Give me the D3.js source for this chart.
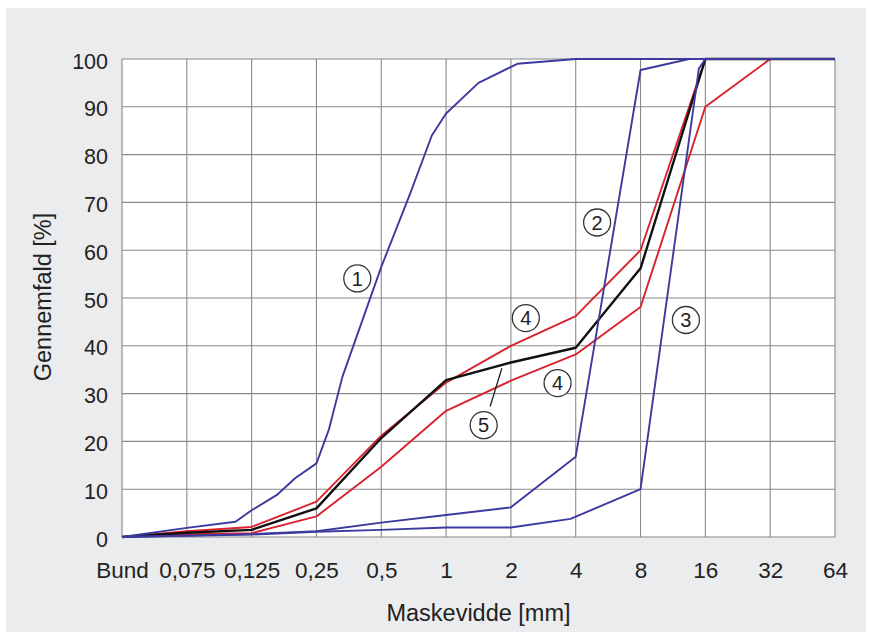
<!DOCTYPE html>
<html>
<head>
<meta charset="utf-8">
<script src="https://cdn.jsdelivr.net/npm/d3@7"></script>
<style>
    body { margin: 0; background: #fff; }
    text { font-family: "Liberation Sans", Arial, sans-serif; fill: #222; }
</style>
</head>
<body>
<svg id="sieveChart"></svg>
<script>
// sieve sizes on the x axis (evenly spaced, x values below are positions on this list)
var sieveLabels = ["Bund", "0,075", "0,125", "0,25", "0,5", "1", "2", "4", "8", "16", "32", "64"];
var percentTicks = [0, 10, 20, 30, 40, 50, 60, 70, 80, 90, 100];

// grading curves: [sieve position, passing %]
var curve1 = [[0, 0], [1, 1.9], [1.75, 3.2], [2, 5.6], [2.39, 8.8], [2.67, 12.3], [3, 15.4], [3.19, 22.4], [3.4, 33.5],
    [4, 56.5], [4.45, 72], [4.78, 84], [5, 88.6], [5.5, 95], [6.1, 99], [7, 100], [11, 100]];
var curve2 = [[0, 0], [2, 0.6], [3, 1.2], [4, 3.0], [5, 4.6], [6, 6.2], [7, 16.8], [8, 97.7], [8.75, 100], [11, 100]];
var curve3 = [[0, 0], [2, 0.5], [3, 1.1], [4, 1.5], [5, 2.0], [6, 2.0], [6.92, 3.8], [8, 10], [8.9, 98], [9, 100], [11, 100]];
var curve4Upper = [[0, 0], [1, 1.2], [2, 2.1], [3, 7.4], [4, 21.2], [5, 32.3], [6, 40], [7, 46.2], [8, 60], [9, 100], [11, 100]];
var curve4Lower = [[0, 0], [1, 0.6], [2, 0.8], [3, 4.3], [4, 14.7], [5, 26.4], [6, 32.7], [7, 38.2], [8, 48.1], [9, 90], [10, 100], [11, 100]];
var curve5 = [[0, 0], [1, 0.9], [2, 1.5], [3, 6.0], [4, 20.7], [5, 32.8], [6, 36.5], [7, 39.6], [8, 56.2], [9, 100], [11, 100]];

// circled curve numbers: [sieve position, %, label]
var curveLabels = [[3.63, 54.1, "1"], [7.33, 65.8, "2"], [8.70, 45.4, "3"], [6.23, 45.8, "4"], [6.72, 32.2, "4"], [5.58, 23.4, "5"]];
var leaderLine = [[5.68, 27.3], [5.86, 35.3]];

var width = 873, height = 633;
var plotLeft = 122, plotRight = 835, plotTop = 59, plotBottom = 537;

var svg = d3.select("#sieveChart")
    .attr("width", width)
    .attr("height", height);

svg.append("rect")
    .attr("x", 6).attr("y", 8)
    .attr("width", 860).attr("height", 624)
    .attr("fill", "#ebeced");

svg.append("rect")
    .attr("x", plotLeft).attr("y", plotTop)
    .attr("width", plotRight - plotLeft).attr("height", plotBottom - plotTop)
    .attr("fill", "#fff");

var x = d3.scaleLinear()
    .domain([0, sieveLabels.length - 1])
    .range([plotLeft, plotRight]);

var y = d3.scaleLinear()
    .domain([0, 100])
    .range([plotBottom, plotTop]);

// grid
svg.append("g")
    .selectAll("line")
    .data(d3.range(sieveLabels.length))
    .enter().append("line")
    .attr("x1", function (d) { return x(d); })
    .attr("x2", function (d) { return x(d); })
    .attr("y1", plotTop).attr("y2", plotBottom)
    .attr("stroke", "#8a8a8a")
    .attr("stroke-width", 1.1);

svg.append("g")
    .selectAll("line")
    .data(percentTicks)
    .enter().append("line")
    .attr("x1", plotLeft).attr("x2", plotRight)
    .attr("y1", function (d) { return y(d); })
    .attr("y2", function (d) { return y(d); })
    .attr("stroke", "#8a8a8a")
    .attr("stroke-width", 1.1);

// axes (labels only)
var yAxis = d3.axisLeft(y).tickValues(percentTicks).tickSize(0).tickPadding(14);
var yAxisG = svg.append("g")
    .attr("transform", "translate(" + plotLeft + ",0)")
    .call(yAxis);
yAxisG.select(".domain").remove();
yAxisG.selectAll("text")
    .attr("dy", "0.42em")
    .style("font-size", "21.5px")
    .style("font-family", "Liberation Sans, Arial, sans-serif")
    .attr("fill", "#222");

var xAxis = d3.axisBottom(x)
    .tickValues(d3.range(sieveLabels.length))
    .tickFormat(function (d) { return sieveLabels[d]; })
    .tickSize(0).tickPadding(25);
var xAxisG = svg.append("g")
    .attr("transform", "translate(0," + plotBottom + ")")
    .call(xAxis);
xAxisG.select(".domain").remove();
xAxisG.selectAll("text")
    .style("font-size", "22.5px")
    .style("font-family", "Liberation Sans, Arial, sans-serif")
    .attr("fill", "#222");

svg.append("text")
    .attr("x", (plotLeft + plotRight) / 2)
    .attr("y", 621)
    .attr("text-anchor", "middle")
    .style("font-size", "23.5px")
    .text("Maskevidde [mm]");

svg.append("text")
    .attr("transform", "translate(51,297) rotate(-90)")
    .attr("text-anchor", "middle")
    .style("font-size", "23.5px")
    .text("Gennemfald [%]");

// curves
var line = d3.line()
    .x(function (d) { return x(d[0]); })
    .y(function (d) { return y(d[1]); });

var curves = [
    { data: curve4Upper, color: "#d8222d" },
    { data: curve4Lower, color: "#d8222d" },
    { data: curve5, color: "#111" },
    { data: curve3, color: "#3d3a9e" },
    { data: curve2, color: "#3d3a9e" },
    { data: curve1, color: "#3d3a9e" }
];

svg.append("g")
    .selectAll("path")
    .data(curves)
    .enter().append("path")
    .attr("d", function (d) { return line(d.data); })
    .attr("fill", "none")
    .attr("stroke", function (d) { return d.color; })
    .attr("stroke-width", function (d) { return d.color === "#111" ? 2.4 : 1.9; })
    .attr("stroke-linejoin", "round");

// labels
svg.append("path")
    .attr("d", line(leaderLine))
    .attr("stroke", "#222")
    .attr("stroke-width", 1.3);

var label = svg.append("g")
    .selectAll("g")
    .data(curveLabels)
    .enter().append("g")
    .attr("transform", function (d) { return "translate(" + x(d[0]) + "," + y(d[1]) + ")"; });

label.append("circle")
    .attr("r", 13.5)
    .attr("fill", "#fff")
    .attr("stroke", "#333")
    .attr("stroke-width", 1.3);

label.append("text")
    .attr("text-anchor", "middle")
    .attr("dy", "0.36em")
    .style("font-size", "20px")
    .text(function (d) { return d[2]; });
</script>
</body>
</html>
